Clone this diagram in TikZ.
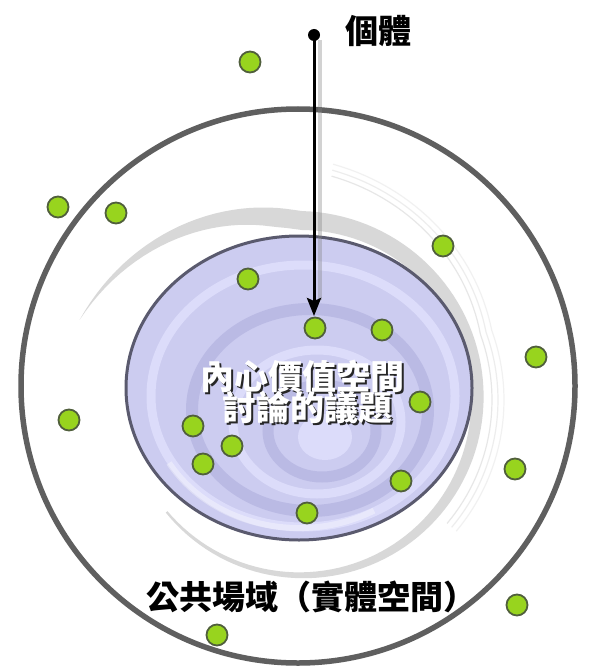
\documentclass[tikz,border=0pt]{standalone}
\usepackage{fontspec}
\newfontfamily\cjk{Noto Sans CJK TC}
\usetikzlibrary{arrows.meta}
\definecolor{ringgray}{RGB}{95,95,95}
\definecolor{innerfill}{RGB}{204,204,240}
\definecolor{innerline}{RGB}{90,90,110}
\definecolor{lightband}{RGB}{220,220,250}
\definecolor{darkband}{RGB}{186,186,228}
\definecolor{swirl}{RGB}{216,216,216}
\definecolor{dotgreen}{RGB}{152,212,30}
\definecolor{dotline}{RGB}{80,95,60}
\tikzset{
  gdot/.style={circle, draw=dotline, line width=1.8pt, fill=dotgreen, minimum size=21pt, inner sep=0pt},
  srcdot/.style={circle, fill=black, minimum size=12pt, inner sep=0pt},
  arrowline/.style={line width=3pt, -{Stealth[length=18pt,width=14pt,inset=3pt]}},
  intext/.style={font=\cjk\bfseries\fontsize{34pt}{36pt}\selectfont, inner sep=0pt},
  bigtext/.style={font=\cjk\bfseries\fontsize{33pt}{36pt}\selectfont, inner sep=0pt, text=black}
}
\begin{document}
\begin{tikzpicture}[x=1pt,y=-1pt]
\useasboundingbox (0,0) rectangle (589,671);
\fill[white] (0,0) rectangle (589,671);

% swirl band in the outer ring
\fill[swirl] plot[domain=160:-140, samples=120, variable=\t]
  ({300 + (189 + max(\t-90,0)*0.65 + min(\t-90,0)*0.06)*cos(\t)},
   {400 - (189 + max(\t-90,0)*0.65 + min(\t-90,0)*0.06)*sin(\t)})
  -- plot[domain=-140:160, samples=120, variable=\t]
  ({300 + (189 + max(\t-90,0)*0.65 + min(\t-90,0)*0.06 - min(19*(160-\t)/60, 19*(\t+170)/260))*cos(\t)},
   {400 - (189 + max(\t-90,0)*0.65 + min(\t-90,0)*0.06 - min(19*(160-\t)/60, 19*(\t+170)/260))*sin(\t)})
  -- cycle;
% thin swirl lines on the right
\foreach \off/\op in {0/0.6, 6/0.45, 12/0.35}{
  \draw[swirl, line width=1.2pt, opacity=\op] plot[domain=82:-40, samples=60, variable=\t]
    ({300 + (192 + \off + max(\t-20,0)*0.55)*cos(\t)},
     {400 - (192 + \off + max(\t-20,0)*0.55)*sin(\t)});
}

% outer circle
\draw[ringgray, line width=5.5pt] (298,386) circle[radius=277];

% inner ellipse with swirl rings
\begin{scope}
  \clip (299,388) ellipse[x radius=173, y radius=152];
  \fill[innerfill] (299,388) ellipse[x radius=173, y radius=152];
  \draw[lightband, line width=9pt] (303,396) ellipse[x radius=152, y radius=131];
  \draw[darkband, line width=12pt] (310,410) ellipse[x radius=118, y radius=101];
  \draw[lightband, line width=9pt] (317,422) ellipse[x radius=84, y radius=72];
  \draw[darkband, line width=11pt] (322,431) ellipse[x radius=54, y radius=46];
  \fill[lightband] (325,437) ellipse[x radius=27, y radius=23];
  \draw[white, opacity=0.35, line width=6pt] (299,388) ++(150:150) arc[start angle=150, end angle=60, x radius=150, y radius=130];
\end{scope}
\draw[innerline, line width=3pt] (299,388) ellipse[x radius=173, y radius=152];

% green dots
\foreach \x/\y [count=\i] in {250/62, 58/207, 116/213, 443/246, 248/279, 315/328, 382/330,
  536/357, 420/402, 69/420, 193/426, 232/446, 203/464, 515/469, 401/481, 307/513, 517/605, 217/635}{
  \node[gdot] (g\i) at (\x,\y) {};
}

% arrow from the individual
\node[srcdot] (src) at (314,35) {};
\coordinate (tip) at (314,316);
\coordinate (srcsh) at (320,40);
\coordinate (tipsh) at (320,300);
\draw[gray, opacity=0.35, line width=4pt] (srcsh) -- (tipsh);
\draw[arrowline] (src.center) -- (tip);
\node[bigtext] (indiv) at (378,31) {個體};

% inner texts with shadow
\node[intext, text=black!85] (l1s) at (304,378) {內心價值空間};
\node[intext, text=white] (l1) at (302,376) {內心價值空間};
\node[intext, text=black!85] (l2s) at (309,410) {討論的議題};
\node[intext, text=white] (l2) at (307,408) {討論的議題};

% public space label
\node[bigtext] (pub) at (311,597) {公共場域（實體空間）};
\end{tikzpicture}
\end{document}
